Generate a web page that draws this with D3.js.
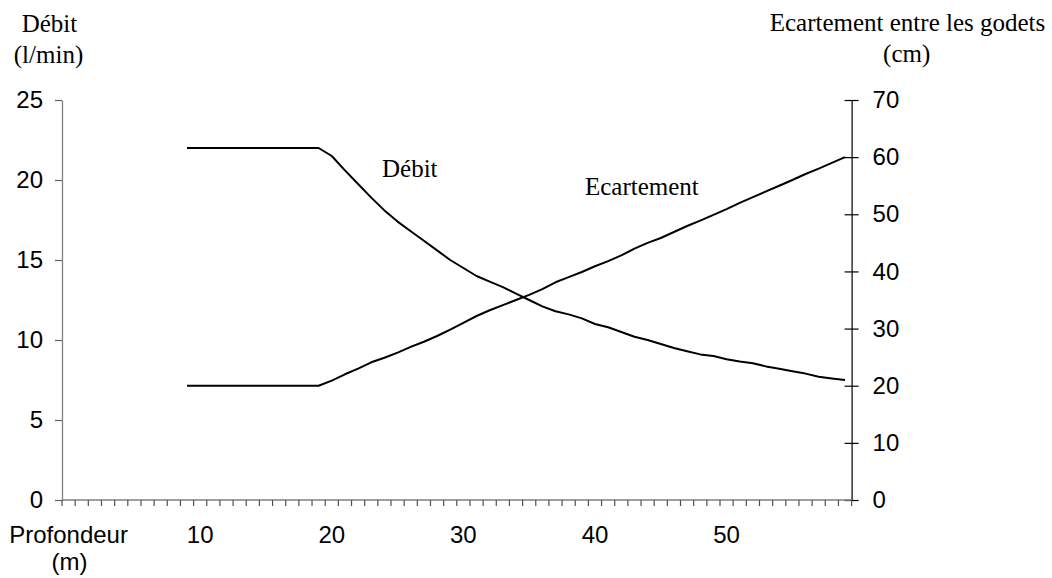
<!DOCTYPE html>
<html>
<head>
<meta charset="utf-8">
<script src="https://cdn.jsdelivr.net/npm/d3@7"></script>
<style>
  html, body { margin: 0; padding: 0; background: #fff; }
  svg { display: block; }
</style>
</head>
<body>
<svg id="chart" width="1052" height="578"></svg>
<script>
// ---- data ----
const categories = [0,1,2,3,4,5,6,7,8,9,10,11,12,13,14,15,16,17,18,19,20,21,22,23,24,25,26,27,28,29,
                    30,31,32,33,34,35,36,37,38,39,40,41,42,43,44,45,46,47,48,49,50,51,52,53,54,55,56,57,58,59];
const depths = [9,10,11,12,13,14,15,16,17,18,19,20,21,22,23,24,25,26,27,28,29,30,31,32,33,34,
                35,36,37,38,39,40,41,42,43,44,45,46,47,48,49,50,51,52,53,54,55,56,57,58,59];
const debit = [22,22,22,22,22,22,22,22,22,22,22,21.5,20.6,19.75,18.9,18.1,17.4,16.8,16.2,15.6,15.0,
               14.5,14.0,13.65,13.3,12.9,12.5,12.1,11.8,11.6,11.35,11.0,10.8,10.5,10.2,10.0,9.75,9.5,
               9.3,9.1,9.0,8.8,8.65,8.55,8.35,8.2,8.05,7.9,7.7,7.6,7.5];
const ecartement = [20,20,20,20,20,20,20,20,20,20,20,20.9,22,23,24.1,24.9,25.8,26.8,27.7,28.7,29.8,
                    31.0,32.2,33.2,34.1,35.0,35.9,36.9,38.1,39.0,39.9,40.9,41.8,42.8,44.0,45.0,45.85,
                    46.9,47.95,48.9,49.9,50.9,52.0,53.0,54.0,55.0,56.0,57.05,58.0,59.0,60.0];
const leftTicks = [0,5,10,15,20,25];
const rightTicks = [0,10,20,30,40,50,60,70];
const xLabelValues = [10,20,30,40,50];

// ---- layout ----
const svg = d3.select("#chart");
const L = 62, R = 851.6, T = 100, B = 500;
const sans = "'Liberation Sans', Arial, sans-serif";
const serif = "'Liberation Serif', 'Times New Roman', serif";

const x = d3.scaleBand().domain(categories).range([L, R]).padding(0);
const yL = d3.scaleLinear().domain([0, 25]).range([B, T]);
const yR = d3.scaleLinear().domain([0, 70]).range([B, T]);
const cx = d => x(d) + x.bandwidth() / 2;

// left axis
const gL = svg.append("g").attr("transform", `translate(${L},0)`)
  .call(d3.axisLeft(yL).tickValues(leftTicks).tickSize(7).tickPadding(12).tickSizeOuter(0));
gL.select(".domain").attr("stroke", "#808080").attr("stroke-width", 1.3);
gL.selectAll(".tick line").attr("stroke", "#606060").attr("stroke-width", 1.2);
gL.selectAll(".tick text").attr("font-family", sans).attr("font-size", 24).attr("fill", "#000");

// right axis
const gR = svg.append("g").attr("transform", `translate(${R},0)`)
  .call(d3.axisRight(yR).tickValues(rightTicks).tickSize(7).tickPadding(14).tickSizeOuter(0));
gR.select(".domain").attr("stroke", "#000").attr("stroke-width", 1.2);
gR.selectAll(".tick line").attr("x1", -7).attr("x2", 7).attr("stroke", "#000").attr("stroke-width", 1.2);
gR.selectAll(".tick text").attr("font-family", sans).attr("font-size", 24).attr("fill", "#000");

// bottom axis line
svg.append("line").attr("x1", L).attr("x2", R).attr("y1", B).attr("y2", B)
  .attr("stroke", "#808080").attr("stroke-width", 1.3);
// bottom ticks at category boundaries
const boundaries = categories.map(c => x(c)).concat([x(categories[categories.length - 1]) + x.bandwidth()]);
svg.append("g").selectAll("line").data(boundaries).join("line")
  .attr("x1", d => d).attr("x2", d => d).attr("y1", B).attr("y2", B + 6)
  .attr("stroke", "#505050").attr("stroke-width", 1.2);
// bottom labels
svg.append("g").selectAll("text").data(xLabelValues).join("text")
  .attr("x", d => cx(d)).attr("y", 543)
  .attr("text-anchor", "middle").attr("font-family", sans).attr("font-size", 24).attr("fill", "#000")
  .text(d => d);
svg.append("text").attr("x", cx(0)).attr("y", 543).attr("text-anchor", "middle")
  .attr("font-family", sans).attr("font-size", 24).text("Profondeur");
svg.append("text").attr("x", cx(0) + 1).attr("y", 570).attr("text-anchor", "middle")
  .attr("font-family", sans).attr("font-size", 24).text("(m)");

// axis titles
svg.append("text").attr("x", 49.5).attr("y", 32).attr("text-anchor", "middle")
  .style("font-family", serif).attr("font-size", 25).text("Débit");
svg.append("text").attr("x", 48.5).attr("y", 63).attr("text-anchor", "middle")
  .style("font-family", serif).attr("font-size", 25).text("(l/min)");
svg.append("text").attr("x", 907.5).attr("y", 31).attr("text-anchor", "middle")
  .style("font-family", serif).attr("font-size", 25).text("Ecartement entre les godets");
svg.append("text").attr("x", 906.7).attr("y", 62).attr("text-anchor", "middle")
  .style("font-family", serif).attr("font-size", 25).text("(cm)");

// lines
const lineL = d3.line().x((d, i) => cx(depths[i])).y(d => yL(d));
const lineR = d3.line().x((d, i) => cx(depths[i])).y(d => yR(d));
svg.append("path").datum(debit).attr("d", lineL)
  .attr("fill", "none").attr("stroke", "#000").attr("stroke-width", 2).attr("stroke-linejoin", "round");
svg.append("path").datum(ecartement).attr("d", lineR)
  .attr("fill", "none").attr("stroke", "#000").attr("stroke-width", 2).attr("stroke-linejoin", "round");

// series labels
svg.append("text").attr("x", 382).attr("y", 177).style("font-family", serif).attr("font-size", 25).text("Débit");
svg.append("text").attr("x", 585).attr("y", 195).style("font-family", serif).attr("font-size", 25).text("Ecartement");
</script>
</body>
</html>
